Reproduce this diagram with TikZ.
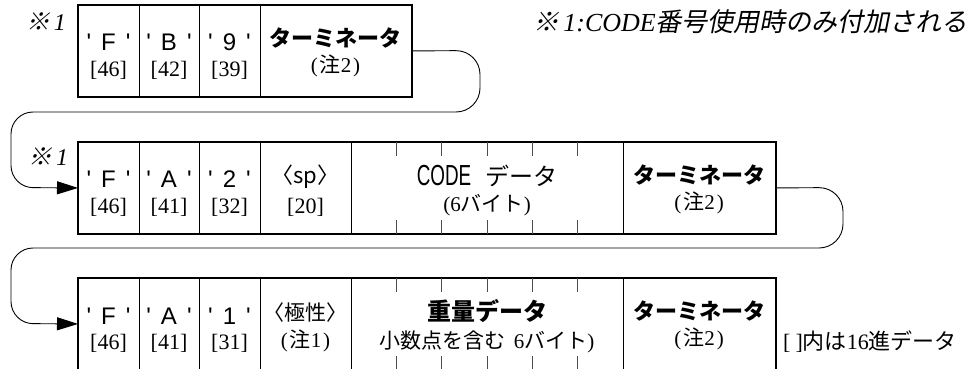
\documentclass[tikz,border=0pt]{standalone}
\usepackage{fontspec}
\usetikzlibrary{arrows.meta}
\setmainfont{Liberation Serif}
\newfontfamily\jp{Noto Sans CJK JP}
\newfontfamily\jpit{Noto Sans CJK JP}[FakeSlant=0.2]
\newfontfamily\gs{Liberation Sans}[Ligatures=TeXOff]
\newfontfamily\sr{Liberation Serif}
\newcommand\fsz[1]{\fontsize{#1}{#1}\selectfont}
\newcommand\qch[1]{{\gs\fsz{24}'\hspace{10pt}#1\hspace{10pt}'}}
\newcommand\hexv[1]{{\sr\fsz{22}[#1]}}
\newcommand\noteb[1]{{\fsz{21}{\sr(}\hspace{2pt}{\jp 注}{\sr #1}\hspace{2pt}{\sr)}}}
\newcommand\term{{\jp\bfseries\fsz{22}ターミネータ}}
\newcommand\kome{{\fsz{24}{\jpit ※}\hspace{4pt}{\sr\itshape 1}}}
\tikzset{
  outer/.style={draw, line width=1.8pt},
  cell/.style={draw, line width=0.9pt, minimum height=91pt, inner sep=0pt, anchor=north west},
  tickmark/.style={line width=0.9pt, draw=black!70},
  looppath/.style={line width=0.9pt},
  lbl/.style={inner sep=0pt, anchor=center},
  arr/.style={-{Triangle[length=21pt,width=13pt]}},
}
\begin{document}
\begin{tikzpicture}[x=1pt,y=-1pt]
\useasboundingbox (0,0) rectangle (974,369);
% ---------- row 1 (top 5)
\node[cell, minimum width=61pt] (a1) at (78,5) {};
\node[cell, minimum width=60pt] (a2) at (139,5) {};
\node[cell, minimum width=61pt] (a3) at (199,5) {};
\node[cell, minimum width=151pt] (a4) at (260,5) {};
\draw[outer] (a1.north west) rectangle (a4.south east);
\node[lbl] (a1t) at (108.5,42) {\qch{F}};
\node[lbl] (a1b) at (108.5,70) {\hexv{46}};
\node[lbl] (a2t) at (169,42) {\qch{B}};
\node[lbl] (a2b) at (169,70) {\hexv{42}};
\node[lbl] (a3t) at (229.5,42) {\qch{9}};
\node[lbl] (a3b) at (229.5,70) {\hexv{39}};
\node[lbl] (a4t) at (335.5,38) {\term};
\node[lbl] (a4b) at (335.5,66) {\noteb{2}};
\node[lbl] (k1) at (46,22) {\kome};
% ---------- row 2 (top 142)
\node[cell, minimum width=61pt] (b1) at (78,142) {};
\node[cell, minimum width=60pt] (b2) at (139,142) {};
\node[cell, minimum width=61pt] (b3) at (199,142) {};
\node[cell, minimum width=91pt] (b4) at (260,142) {};
\node[cell, minimum width=272pt] (b5) at (351,142) {};
\node[cell, minimum width=152pt] (b6) at (623,142) {};
\draw[outer] (b1.north west) rectangle (b6.south east);
\foreach \k in {1,...,5}{
  \draw[tickmark] ([xshift=\k*45.33pt]b5.north west) -- ++(0,14);
  \draw[tickmark] ([xshift=\k*45.33pt]b5.south west) -- ++(0,-14);
}
\node[lbl] (b1t) at (108.5,179) {\qch{F}};
\node[lbl] (b1b) at (108.5,207) {\hexv{46}};
\node[lbl] (b2t) at (169,179) {\qch{A}};
\node[lbl] (b2b) at (169,207) {\hexv{41}};
\node[lbl] (b3t) at (229.5,179) {\qch{2}};
\node[lbl] (b3b) at (229.5,207) {\hexv{32}};
\node[lbl] (b4t) at (305.5,177) {{\jp\fsz{22}〈sp〉}};
\node[lbl] (b4b) at (305.5,207) {\hexv{20}};
\node[lbl] (b5t) at (487,176) {\scalebox{0.65}[1]{\gs\fsz{29}CODE}\hspace{14pt}{\jp\fsz{24}データ}};
\node[lbl] (b5b) at (487,205) {{\fsz{21}{\sr(6}{\jp バイト}{\sr)}}};
\node[lbl] (b6t) at (699,175) {\term};
\node[lbl] (b6b) at (699,203) {\noteb{2}};
\node[lbl] (k2) at (48,157) {\kome};
% ---------- row 3 (top 278)
\node[cell, minimum width=61pt] (c1) at (78,278) {};
\node[cell, minimum width=60pt] (c2) at (139,278) {};
\node[cell, minimum width=61pt] (c3) at (199,278) {};
\node[cell, minimum width=91pt] (c4) at (260,278) {};
\node[cell, minimum width=272pt] (c5) at (351,278) {};
\node[cell, minimum width=152pt] (c6) at (623,278) {};
\draw[outer] (c1.north west) rectangle (c6.south east);
\foreach \k in {1,...,5}{
  \draw[tickmark] ([xshift=\k*45.33pt]c5.north west) -- ++(0,14);
  \draw[tickmark] ([xshift=\k*45.33pt]c5.south west) -- ++(0,-14);
}
\node[lbl] (c1t) at (108.5,316) {\qch{F}};
\node[lbl] (c1b) at (108.5,343) {\hexv{46}};
\node[lbl] (c2t) at (169,316) {\qch{A}};
\node[lbl] (c2b) at (169,343) {\hexv{41}};
\node[lbl] (c3t) at (229.5,316) {\qch{1}};
\node[lbl] (c3b) at (229.5,343) {\hexv{31}};
\node[lbl] (c4t) at (305.5,313) {{\jp\fsz{21}〈極性〉}};
\node[lbl] (c4b) at (305.5,341) {\noteb{1}};
\node[lbl] (c5t) at (487,311) {{\jp\bfseries\fsz{24}重量データ}};
\node[lbl] (c5b) at (487,342) {{\fsz{21}{\jp 小数点を含む}\hspace{8pt}{\sr 6}{\jp バイト}{\sr)}}};
\node[lbl] (c6t) at (699,311) {\term};
\node[lbl] (c6b) at (699,339) {\noteb{2}};
% ---------- notes
\node[inner sep=0pt, anchor=east] (note1) at (968,22) {{\fsz{26}{\jpit ※}\hspace{4pt}{\sr\itshape 1:CODE}{\jpit 番号使用時のみ付加される}}};
\node[inner sep=0pt, anchor=west] (note2) at (783,342) {{\fsz{22}{\sr[\hspace{5pt}]}{\jp 内は}{\sr 16}{\jp 進データ}}};
% ---------- loops
\draw[looppath, arr, rounded corners=24pt] (a4.east) -- (480,50.5) -- (480,112)
   [rounded corners=22pt] -- (11,112) -- (11,187.5) -- (b1.west);
\draw[looppath, arr, rounded corners=24pt] (b6.east) -- (843,187.5) -- (843,248)
   [rounded corners=22pt] -- (11,248) -- (11,323.5) -- (c1.west);
\end{tikzpicture}
\end{document}
